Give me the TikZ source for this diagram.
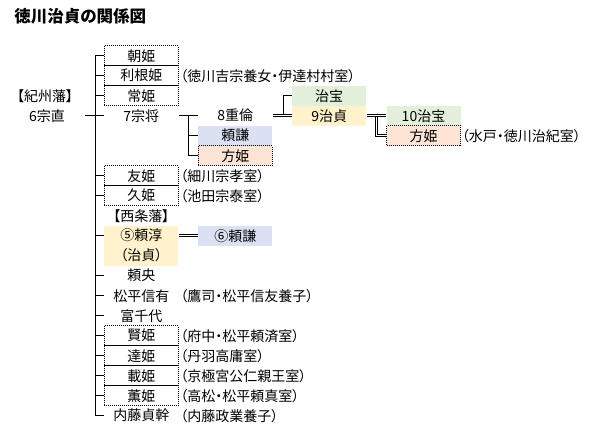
\documentclass[tikz,border=0pt]{standalone}
\usepackage{fontspec}
\setmainfont{Noto Sans CJK JP}[RawFeature=+palt]
\definecolor{kgreen}{HTML}{E2EFDA}
\definecolor{kyellow}{HTML}{FFF2CC}
\definecolor{kblue}{HTML}{D9E1F2}
\definecolor{korange}{HTML}{FCE4D6}

\begin{document}
\begin{tikzpicture}[x=1pt,y=-1pt,line width=0.8pt,
    font=\fontsize{14}{20}\selectfont,
    cell/.style={minimum width=74pt,minimum height=20pt,inner sep=0pt},
    dotbox/.style={cell,draw,dash pattern=on 1pt off 1pt},
    note/.style={anchor=west,inner sep=0pt},
    dbl/.style={double,double distance=1.2pt}]
\useasboundingbox (0,0) rectangle (606,438);
\node[anchor=west,inner sep=0pt,font=\fontsize{16.5}{20}\selectfont\bfseries] (title) at (14,16) {徳川治貞の関係図};
\coordinate (trunk) at (95,0);

\node[inner sep=0pt] (kishu) at (45,95.7) {【紀州藩】};
\node[cell,minimum width=76pt] (munenao) at (47,115.7) {6宗直};

\node[dotbox] (asahi) at (141.3,55.7) {朝姫};
\node[dotbox] (tone) at (141.3,75.7) {利根姫};
\node[dotbox] (tsune) at (141.3,95.7) {常姫};
\node[cell] (munemasa) at (141.3,115.7) {7宗将};
\node[dotbox] (tomo) at (141.3,175.7) {友姫};
\node[dotbox] (hisa) at (141.3,195.7) {久姫};
\node[cell] (saijo) at (141.3,215.7) {【西条藩】};
\node[cell,fill=kyellow,minimum height=40pt,align=center] (yorinobu) at (141.3,245.7) {⑤頼淳\\（治貞）};
\node[cell] (yorinaka) at (141.3,275.7) {頼央};
\node[cell] (nobuari) at (141.3,295.7) {松平信有};
\node[cell] (tomichiyo) at (141.3,315.7) {富千代};
\node[dotbox] (kata) at (141.3,335.7) {賢姫};
\node[dotbox] (tatsu) at (141.3,355.7) {達姫};
\node[dotbox] (toshi) at (141.3,375.7) {載姫};
\node[dotbox] (kaoru) at (141.3,395.7) {薫姫};
\node[cell] (sadamoto) at (141.3,415.7) {内藤貞幹};

\node[cell] (shigenori) at (235.3,115.7) {8重倫};
\node[cell,fill=kblue] (yorikata) at (235.3,135.7) {頼謙};
\node[dotbox,fill=korange] (hohime) at (235.3,155.7) {方姫};
\node[cell,fill=kblue] (yorikata2) at (235.3,235.7) {⑥頼謙};

\node[cell,fill=kgreen] (harutomi) at (329.2,95.7) {治宝};
\node[cell,fill=kyellow] (harusada) at (329.2,115.7) {9治貞};

\node[cell,fill=kgreen] (harutomi2) at (423.5,115.7) {10治宝};
\node[dotbox,fill=korange] (hohime2) at (423.5,135.7) {方姫};

\node[note] (tone-note) at (180,75.7) {（徳川吉宗養女・伊達村村室）};
\node[note] (tomo-note) at (180,175.7) {（細川宗孝室）};
\node[note] (hisa-note) at (180,195.7) {（池田宗泰室）};
\node[note] (nobuari-note) at (180,295.7) {（鷹司・松平信友養子）};
\node[note] (kata-note) at (180,335.7) {（府中・松平頼済室）};
\node[note] (tatsu-note) at (180,355.7) {（丹羽高庸室）};
\node[note] (toshi-note) at (180,375.7) {（京極宮公仁親王室）};
\node[note] (kaoru-note) at (180,395.7) {（高松・松平頼真室）};
\node[note] (sadamoto-note) at (180,415.7) {（内藤政業養子）};
\node[note] (hohime2-note) at (461.5,135.7) {（水戸・徳川治紀室）};

\draw (asahi.west) -- (asahi.west -| trunk) |- (sadamoto.west);
\foreach \n in {tone,tsune,tomo,hisa,yorinaka,nobuari,tomichiyo,kata,tatsu,toshi,kaoru}
  \draw (\n.west) -- (\n.west -| trunk);
\draw (yorikata2.west -| yorinobu.west) -- (yorikata2.west -| trunk);
\draw (munenao.east) -- (munemasa.west);

\coordinate (j7) at (188,115.7);
\draw (munemasa.east) -- (shigenori.west);
\draw (j7) |- (yorikata.west);
\draw (j7) |- (hohime.west);

\coordinate (j8) at (283,114.7);
\draw (j8) |- (harutomi.west);
\draw[dbl] (shigenori.east) -- (harusada.west);

\coordinate (j9) at (376.5,115.7);
\draw[dbl] (j9) |- (hohime2.west);
\draw[dbl] (harusada.east) -- (harutomi2.west);

\draw[dbl] (yorinobu.east |- yorikata2.west) -- (yorikata2.west);
\end{tikzpicture}
\end{document}
